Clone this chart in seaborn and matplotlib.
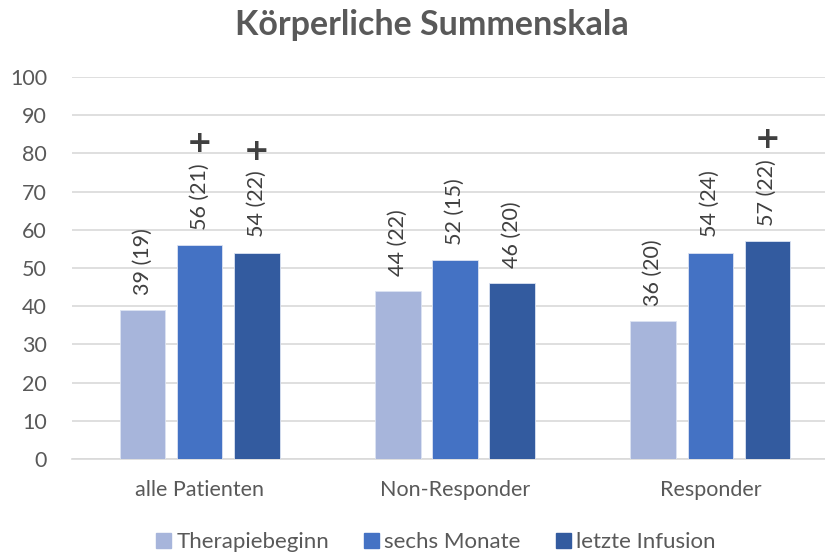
import numpy as np
import pandas as pd
import matplotlib.pyplot as plt
import seaborn as sns

# data
groups = ["alle Patienten", "Non-Responder", "Responder"]
series = ["Therapiebeginn", "sechs Monate", "letzte Infusion"]
therapiebeginn = [39, 44, 36]
therapiebeginn_sd = [19, 22, 20]
sechs_monate = [56, 52, 54]
sechs_monate_sd = [21, 15, 24]
letzte_infusion = [54, 46, 57]
letzte_infusion_sd = [22, 20, 22]
plus_sechs = [True, False, False]
plus_letzte = [True, False, True]

means = [therapiebeginn, sechs_monate, letzte_infusion]
sds = [therapiebeginn_sd, sechs_monate_sd, letzte_infusion_sd]
plus = [[False, False, False], plus_sechs, plus_letzte]

df = pd.DataFrame({
    "Gruppe": groups * 3,
    "Zeitpunkt": [s for s in series for _ in groups],
    "Wert": therapiebeginn + sechs_monate + letzte_infusion,
})

sns.set_style("white")
plt.rcParams['font.family'] = ['Lato', 'DejaVu Sans']
grey = "#595959"
cols = ["#A7B5DB", "#4472C4", "#335B9F"]

fig = plt.figure(figsize=(8.25, 5.54), dpi=100)
ax = fig.add_axes([72/825, 1-459/554, 766/825, 382/554])

sns.barplot(data=df, x="Gruppe", y="Wert", hue="Zeitpunkt", hue_order=series,
            palette=cols, saturation=1, width=0.67, gap=0.2, edgecolor="#DCE3F2",
            linewidth=0.6, ax=ax, legend=False, zorder=3)

ax.set_xlim(-0.5, 2.5)
ax.set_ylim(0, 100)
ax.set_yticks(range(0, 101, 10))
ax.yaxis.grid(True, color="#D9D9D9", linewidth=1.2, zorder=0)
ax.set_axisbelow(True)
for s in ["top", "right", "left"]:
    ax.spines[s].set_visible(False)
ax.spines["bottom"].set_color("#D9D9D9")
ax.spines["bottom"].set_linewidth(1.2)
ax.tick_params(axis="both", length=0, labelsize=15.5, colors=grey)
ax.tick_params(axis="y", pad=18)
ax.tick_params(axis="x", pad=15)
ax.set_xlabel("")
ax.set_ylabel("")

for k, cont in enumerate(ax.containers):
    for j, bar in enumerate(cont):
        xc = bar.get_x() + bar.get_width() / 2
        h = bar.get_height()
        ax.annotate(f"{means[k][j]} ({sds[k][j]})", (xc, h), xytext=(0, 11),
                    textcoords="offset points", rotation=90, ha="center",
                    va="bottom", fontsize=15.5, color="#404040")
        if plus[k][j]:
            ax.annotate("+", (xc, h), xytext=(0, 73), textcoords="offset points",
                        ha="center", va="center", fontsize=22, fontweight="bold",
                        color="#404040", family="DejaVu Sans")

fig.text(432/825, 1-25/554, "Körperliche Summenskala", ha="center", va="center",
         fontsize=24.5, fontweight="bold", color=grey)

handles = [plt.Rectangle((0, 0), 1, 1, color=c) for c in cols]
fig.legend(handles, series, loc="center", bbox_to_anchor=(436/825, 1-542/554),
           ncol=3, frameon=False, fontsize=16, labelcolor=grey,
           handlelength=0.65, handleheight=0.65, handletextpad=0.25, columnspacing=1.6)

fig.savefig("out.png", dpi=100)
